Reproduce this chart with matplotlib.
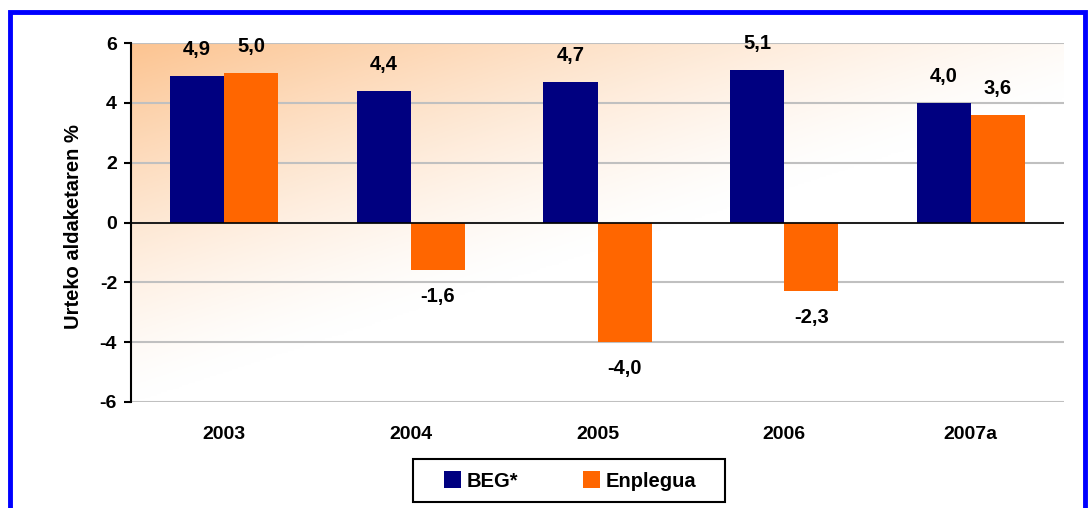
import numpy as np
import matplotlib
matplotlib.use("Agg")
from matplotlib import pyplot as plt
from matplotlib.patches import Rectangle

years = ['2003', '2004', '2005', '2006', '2007a']
beg = [4.9, 4.4, 4.7, 5.1, 4.0]
enplegua = [5.0, -1.6, -4.0, -2.3, 3.6]
beg_labels = ['4,9', '4,4', '4,7', '5,1', '4,0']
enp_labels = ['5,0', '-1,6', '-4,0', '-2,3', '3,6']

plt.rcParams['font.family'] = ['Liberation Sans', 'DejaVu Sans']
plt.rcParams['font.weight'] = 'bold'

W, H = 1088, 508
fig = plt.figure(figsize=(W/100, H/100), dpi=100)
ax = fig.add_axes([131/W, 1 - 402/H, (1064-131)/W, (402-43)/H])

# blue frame around the figure
fig.patches.append(Rectangle((10/W, -0.1), (1085-10)/W, 1.1 - 12/H,
                             transform=fig.transFigure, fill=False,
                             edgecolor='#0000FF', linewidth=3.5, zorder=10))

# gradient background
gx, gy = np.meshgrid(np.linspace(0, 1, 300), np.linspace(1, 0, 200))
t = np.clip(1 - (0.85*gx + 1.0*(1-gy)), 0, 1) ** 1.3
top = np.array([252, 196, 145]) / 255
img = np.ones((200, 300, 3)) * (1 - t[..., None]) + top * t[..., None]
ax.imshow(img, extent=[0, 1, 0, 1], transform=ax.transAxes, aspect='auto', zorder=0)

x = np.arange(len(years))
w = 0.29
ax.bar(x - w/2, beg, w, color='#000080', zorder=3, label='BEG*')
ax.bar(x + w/2, enplegua, w, color='#FF6600', zorder=3, label='Enplegua')

for i in range(len(years)):
    for xv, v, s in [(x[i] - w/2, beg[i], beg_labels[i]), (x[i] + w/2, enplegua[i], enp_labels[i])]:
        off = 19 if v >= 0 else -19
        ax.annotate(s, (xv, v), xytext=(0, off), textcoords='offset points',
                    ha='center', va='center', fontsize=14.5, fontweight='bold')

ax.set_xlim(-0.5, 4.5)
ax.set_ylim(-6, 6)
ax.set_yticks([-6, -4, -2, 0, 2, 4, 6])
ax.set_yticklabels(['-6', '-4', '-2', '0', '2', '4', '6'], fontsize=14, fontweight='bold')
ax.set_xticks(x)
ax.set_xticklabels(years, fontsize=14, fontweight='bold')
ax.tick_params(axis='x', length=0, pad=17)
ax.tick_params(axis='y', length=5, width=1.5, direction='out', pad=5)
ax.grid(axis='y', color='#C0C0C0', linewidth=1.5, zorder=1)
ax.set_axisbelow(True)
ax.axhline(0, color='black', linewidth=1.2, zorder=4)
for sp in ['top', 'right', 'bottom']:
    ax.spines[sp].set_visible(False)
ax.spines['left'].set_linewidth(1.5)
ax.spines['left'].set_zorder(5)

ax.set_ylabel('Urteko aldaketaren %', fontsize=14.5, fontweight='bold')
ax.yaxis.set_label_coords((83 - 131) / (1064 - 131), 0.49)

# legend box
fig.patches.append(Rectangle((413/W, 1 - 502/H), (725-413)/W, (502-459)/H,
                             transform=fig.transFigure, fill=True, facecolor='white',
                             edgecolor='black', linewidth=1.5, zorder=5))
leg = fig.legend(loc='center', bbox_to_anchor=(570/W, 1 - 481/H), ncol=2,
                 fontsize=14.5, frameon=False,
                 handlelength=0.85, handleheight=0.85, columnspacing=3.2,
                 handletextpad=0.3)
leg.set_zorder(6)
for txt in leg.get_texts():
    txt.set_fontweight('bold')

fig.savefig('out.png', dpi=100)
